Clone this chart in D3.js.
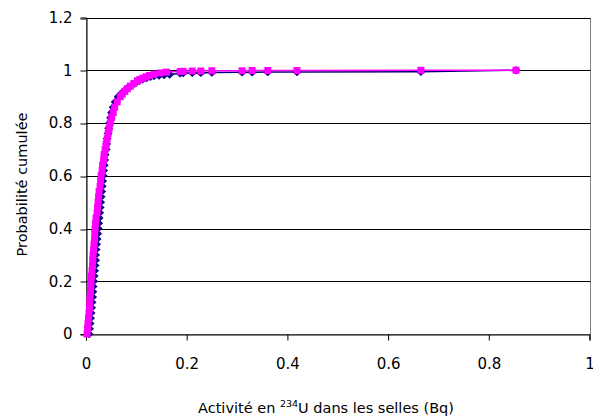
<!DOCTYPE html>
<html>
<head>
<meta charset="utf-8">
<script src="https://cdn.jsdelivr.net/npm/d3@7"></script>
<style>
  body { margin: 0; background: #fff; }
  text { font-family: "DejaVu Sans", Verdana, sans-serif; fill: #000; }
</style>
</head>
<body>
<div id="chart"></div>
<script>
// valeurs (activité en Bq, probabilité cumulée)
const navyX = [0.006, 0.007, 0.008, 0.009, 0.010, 0.011, 0.012, 0.013, 0.0135, 0.014,
  0.015, 0.016, 0.017, 0.018, 0.019, 0.019, 0.020, 0.021, 0.022, 0.023,
  0.024, 0.025, 0.026, 0.027, 0.028, 0.029, 0.030, 0.031, 0.032, 0.033,
  0.034, 0.035, 0.036, 0.037, 0.038, 0.040, 0.041, 0.042, 0.044, 0.045,
  0.047, 0.049, 0.051, 0.054, 0.058, 0.064, 0.069, 0.075, 0.081, 0.089,
  0.097, 0.106, 0.112, 0.120, 0.128, 0.135, 0.145, 0.155, 0.166, 0.187,
  0.193, 0.211, 0.228, 0.250, 0.310, 0.330, 0.361, 0.419, 0.665, 0.854];
const navyP = [0.00, 0.02, 0.04, 0.06, 0.08, 0.10, 0.12, 0.14, 0.16, 0.18,
  0.20, 0.22, 0.24, 0.26, 0.28, 0.30, 0.32, 0.34, 0.36, 0.38,
  0.40, 0.42, 0.44, 0.46, 0.48, 0.50, 0.52, 0.54, 0.56, 0.58,
  0.60, 0.62, 0.64, 0.66, 0.68, 0.70, 0.72, 0.74, 0.76, 0.78,
  0.80, 0.82, 0.84, 0.86, 0.88, 0.90, 0.91, 0.92, 0.93, 0.94,
  0.95, 0.96, 0.965, 0.97, 0.975, 0.978, 0.980, 0.982, 0.984, 0.988,
  0.989, 0.990, 0.990, 0.991, 0.992, 0.992, 0.993, 0.993, 0.994, 1.0];

const pinkX = [0.002, 0.003, 0.004, 0.005, 0.006, 0.007, 0.0075, 0.008, 0.009, 0.0095,
  0.010, 0.011, 0.012, 0.013, 0.0135, 0.014, 0.015, 0.016, 0.017, 0.0175,
  0.018, 0.019, 0.020, 0.022, 0.023, 0.024, 0.025, 0.026, 0.028, 0.029,
  0.030, 0.032, 0.033, 0.035, 0.036, 0.038, 0.040, 0.042, 0.044, 0.046,
  0.048, 0.051, 0.054, 0.057, 0.062, 0.068, 0.072, 0.077, 0.082, 0.088,
  0.095, 0.102, 0.107, 0.113, 0.119, 0.126, 0.135, 0.148, 0.160, 0.187,
  0.193, 0.211, 0.228, 0.250, 0.310, 0.330, 0.361, 0.419, 0.665, 0.854];
const pinkP = [0.00, 0.02, 0.04, 0.06, 0.08, 0.10, 0.12, 0.14, 0.16, 0.18,
  0.20, 0.22, 0.24, 0.26, 0.28, 0.30, 0.32, 0.34, 0.36, 0.38,
  0.40, 0.42, 0.44, 0.46, 0.48, 0.50, 0.52, 0.54, 0.56, 0.58,
  0.60, 0.62, 0.64, 0.66, 0.68, 0.70, 0.72, 0.74, 0.76, 0.78,
  0.80, 0.82, 0.84, 0.86, 0.88, 0.90, 0.91, 0.92, 0.93, 0.94,
  0.95, 0.96, 0.965, 0.97, 0.975, 0.98, 0.985, 0.99, 0.993, 0.995,
  0.996, 0.997, 0.997, 0.998, 0.998, 0.999, 0.999, 0.999, 1.0, 1.0];

const xTicks = [0, 0.2, 0.4, 0.6, 0.8, 1];
const yTicks = [0, 0.2, 0.4, 0.6, 0.8, 1, 1.2];

const width = 593, height = 418;
const plotLeft = 86, plotRight = 589.5, plotTop = 17.5, plotBottom = 334;

const svg = d3.select('#chart').append('svg')
  .attr('width', width)
  .attr('height', height);

svg.append('rect').attr('width', width).attr('height', height).attr('fill', '#fff');

const x = d3.scaleLinear().domain([0, 1]).range([plotLeft, plotRight]);
const y = d3.scaleLinear().domain([0, 1.2]).range([plotBottom, plotTop]);
const fmt = d3.format('~g');
const crisp = v => Math.round(v) + 0.5;

// bordure de la zone de tracé
svg.append('rect')
  .attr('x', plotLeft + 0.5).attr('y', crisp(plotTop))
  .attr('width', Math.round(plotRight - plotLeft))
  .attr('height', Math.round(plotBottom) - Math.round(plotTop))
  .attr('fill', 'none').attr('stroke', '#808080');

// quadrillage
svg.append('g').selectAll('line')
  .data(yTicks.filter(d => d > 0))
  .enter().append('line')
  .attr('x1', plotLeft).attr('x2', plotRight + 1)
  .attr('y1', d => crisp(y(d)))
  .attr('y2', d => crisp(y(d)))
  .attr('stroke', '#000');

// axes
const yAxis = svg.append('g')
  .attr('transform', `translate(${plotLeft + 0.5},0)`)
  .call(d3.axisLeft(y).tickValues(yTicks).tickFormat(fmt).tickSize(6).tickPadding(8));

const xAxis = svg.append('g')
  .attr('transform', `translate(0,${crisp(plotBottom)})`)
  .call(d3.axisBottom(x).tickValues(xTicks).tickFormat(fmt).tickSize(6).tickPadding(18));

[yAxis, xAxis].forEach(a => {
  a.select('.domain').attr('stroke', '#000');
  a.selectAll('.tick line').attr('stroke', '#000');
  a.selectAll('.tick text').attr('font-size', 15)
    .attr('font-family', '"DejaVu Sans", Verdana, sans-serif').attr('fill', '#000');
});
yAxis.selectAll('.tick line').attr('transform', d => `translate(0,${crisp(y(d)) - y(d)})`);

// séries
function drawSeries(xs, ps, color, marker) {
  const pts = xs.map((v, i) => [v, ps[i]]);
  svg.append('path')
    .datum(pts)
    .attr('fill', 'none')
    .attr('stroke', color)
    .attr('stroke-width', 1.5)
    .attr('d', d3.line().x(d => x(d[0])).y(d => y(d[1])));
  svg.append('g').selectAll('path')
    .data(pts)
    .enter().append('path')
    .attr('transform', d => `translate(${x(d[0])},${y(d[1])})`)
    .attr('d', marker)
    .attr('fill', color);
}

drawSeries(navyX, navyP, '#000080', 'M0,-4.2L4.5,0L0,4.2L-4.5,0Z');
drawSeries(pinkX, pinkP, '#ff00ff', 'M-3.5,-3.5H3.5V3.5H-3.5Z');

// titres des axes
const xt = svg.append('text')
  .attr('x', 326).attr('y', 413)
  .attr('text-anchor', 'middle')
  .attr('font-size', 14.5);
xt.append('tspan').text('Activité en ');
xt.append('tspan').attr('font-size', 9.5).attr('dy', -6).text('234');
xt.append('tspan').attr('dy', 6).text('U dans les selles (Bq)');

svg.append('text')
  .attr('transform', 'translate(27,184.5) rotate(-90)')
  .attr('text-anchor', 'middle')
  .attr('font-size', 14.5)
  .text('Probabilité cumulée');
</script>
</body>
</html>
